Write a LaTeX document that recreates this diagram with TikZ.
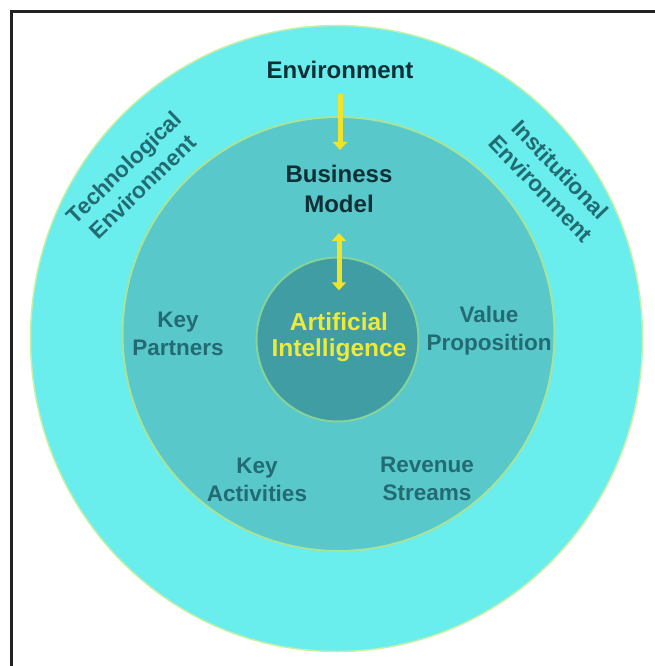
\documentclass[tikz,border=0pt]{standalone}
\usepackage{fontspec}
\setmainfont{Liberation Sans}
\usetikzlibrary{arrows.meta,calc}
\definecolor{outerc}{HTML}{69EDED}
\definecolor{midc}{HTML}{58C8CA}
\definecolor{innerc}{HTML}{3F9DA3}
\definecolor{edgeo}{HTML}{C4F0A8}
\definecolor{edgem}{HTML}{A6E49A}
\definecolor{edgei}{HTML}{86D39A}
\definecolor{darktxt}{HTML}{0E2F35}
\definecolor{tealtxt}{HTML}{236B73}
\definecolor{aiyel}{HTML}{EEEA3A}
\definecolor{arrowc}{HTML}{F2E22C}
\definecolor{framec}{HTML}{222222}
\tikzset{
  every node/.style={inner sep=0pt, align=center, font=\bfseries},
  toplbl/.style={text=darktxt, font=\bfseries\fontsize{24}{30}\selectfont},
  seglbl/.style={text=tealtxt, font=\bfseries\fontsize{22.5}{28}\selectfont},
  envlbl/.style={text=tealtxt, font=\bfseries\fontsize{22.5}{27}\selectfont},
  ailbl/.style={text=aiyel, font=\bfseries\fontsize{24.5}{26}\selectfont},
  yarrow/.style={draw=arrowc, line width=5pt, -{Triangle[length=8pt,width=14pt]}},
  yarrow2/.style={draw=arrowc, line width=5pt, {Triangle[length=8pt,width=14pt]}-{Triangle[length=8pt,width=14pt]}}
}
\begin{document}
\begin{tikzpicture}[x=1pt,y=-1pt]
\useasboundingbox (0,0) rectangle (655,666);
\fill[white] (0,0) rectangle (655,666);
\draw[framec, line width=3pt] (11.5,666) -- (11.5,11.5) -- (655,11.5);
% circles
\draw[fill=outerc, draw=edgeo, line width=1.5pt] (336.5,338.5) ellipse [x radius=306, y radius=313];
\draw[fill=midc, draw=edgem, line width=2pt] (338.5,334) ellipse [x radius=216, y radius=217];
\draw[fill=innerc, draw=edgei, line width=2pt] (337.5,339.5) ellipse [x radius=81, y radius=82];
% labels
\node[toplbl] (env) at (340,70) {Environment};
\node[toplbl] (bm) at (339,189) {Business\\Model};
\node[ailbl] (ai) at (339,337) {Artificial\\Intelligence};
\node[seglbl] (kp) at (178,334) {Key\\Partners};
\node[seglbl] (vp) at (489,331) {Value\\Proposition};
\node[seglbl] (ka) at (257,480) {Key\\Activities};
\node[seglbl] (rs) at (427,479) {Revenue\\Streams};
\node[envlbl, rotate=44] (tech) at (133,177) {Technological\\Environment};
\node[envlbl, rotate=-46] (inst) at (550.5,179) {Institutional\\Environment};
% arrows
\draw[yarrow, shorten <=15pt, shorten >=15pt] (env.south) -- (env.south |- bm.north);
\draw[yarrow2, shorten <=20pt, shorten >=22pt] (bm.south) -- (bm.south |- ai.north);
\end{tikzpicture}
\end{document}
